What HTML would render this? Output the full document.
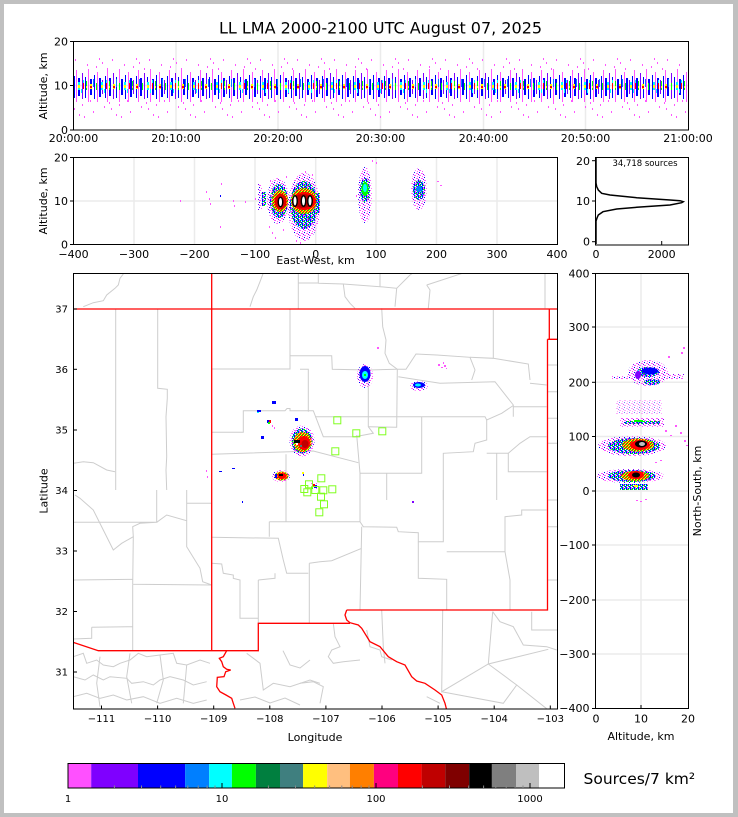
<!DOCTYPE html>
<html><head><meta charset="utf-8"><style>
html,body{margin:0;padding:0;background:#c0c0c0;}
svg{display:block;}
text{font-family:"DejaVu Sans","Liberation Sans",sans-serif;fill:#000;}
</style></head><body>
<svg width="738" height="817" viewBox="0 0 738 817" xmlns="http://www.w3.org/2000/svg">
<defs>
<pattern id="pa" patternUnits="userSpaceOnUse" x="73" y="56" width="31" height="64">
<rect x="1" y="20" width="1" height="22" fill="#00f"/><rect x="3" y="14" width="1" height="32" fill="#f5f"/>
<rect x="5" y="22" width="2" height="18" fill="#00f"/><rect x="9" y="17" width="1" height="26" fill="#7f00ff"/>
<rect x="12" y="21" width="1" height="21" fill="#00f"/><rect x="15" y="13" width="1" height="33" fill="#f5f"/>
<rect x="17" y="23" width="2" height="16" fill="#00f"/><rect x="21" y="19" width="1" height="24" fill="#00f"/>
<rect x="24" y="16" width="1" height="30" fill="#f5f"/><rect x="26" y="22" width="2" height="19" fill="#00f"/>
<rect x="29" y="24" width="1" height="14" fill="#7f00ff"/>
</pattern>
<pattern id="pb" patternUnits="userSpaceOnUse" x="73" y="56" width="23" height="64">
<rect x="5" y="26" width="2" height="8" fill="#0ff"/><rect x="5" y="29" width="2" height="3" fill="#ff0"/>
<rect x="0" y="27" width="1" height="7" fill="#0f0"/><rect x="10" y="27" width="1" height="6" fill="#f00"/>
<rect x="10" y="24" width="1" height="3" fill="#0ff"/><rect x="13" y="25" width="1" height="9" fill="#0f0"/>
<rect x="13" y="30" width="1" height="2" fill="#ff0"/><rect x="17" y="28" width="2" height="5" fill="#ff0"/>
<rect x="17" y="30" width="2" height="2" fill="#f00"/><rect x="20" y="23" width="1" height="8" fill="#007fff"/>
<rect x="8" y="33" width="1" height="4" fill="#0ff"/>
</pattern>
<pattern id="pc" patternUnits="userSpaceOnUse" x="73" y="56" width="37" height="64">
<g fill="#f5f">
<rect x="2" y="3" width="1" height="2"/><rect x="9" y="48" width="1" height="2"/><rect x="14" y="8" width="1" height="2"/>
<rect x="20" y="55" width="1" height="2"/><rect x="26" y="2" width="1" height="2"/><rect x="31" y="50" width="1" height="2"/>
<rect x="6" y="58" width="1" height="2"/><rect x="34" y="12" width="1" height="2"/><rect x="17" y="44" width="1" height="2"/>
<rect x="23" y="10" width="1" height="2"/><rect x="11" y="60" width="1" height="2"/><rect x="29" y="6" width="1" height="2"/>
<rect x="1" y="52" width="1" height="2"/><rect x="36" y="46" width="1" height="2"/>
</g>
</pattern>
<!-- speckle fills -->
<pattern id="sp1" patternUnits="userSpaceOnUse" x="0" y="0" width="5" height="5">
<rect x="0" y="0" width="1" height="1" fill="#f5f"/><rect x="2" y="1" width="1" height="1" fill="#f5f"/>
<rect x="4" y="2" width="1" height="1" fill="#00f"/><rect x="1" y="3" width="1" height="1" fill="#f5f"/>
<rect x="3" y="4" width="1" height="1" fill="#7f00ff"/><rect x="4" y="0" width="1" height="1" fill="#f5f"/>
<rect x="2" y="3" width="1" height="1" fill="#f5f"/>
</pattern>
<pattern id="sp2" patternUnits="userSpaceOnUse" x="0" y="0" width="4" height="4">
<rect x="0" y="0" width="1" height="1" fill="#00f"/><rect x="1" y="0" width="1" height="1" fill="#0ff"/>
<rect x="2" y="0" width="1" height="1" fill="#00f"/><rect x="3" y="0" width="1" height="1" fill="#f5f"/>
<rect x="0" y="1" width="1" height="1" fill="#0f0"/><rect x="2" y="1" width="1" height="1" fill="#00f"/>
<rect x="3" y="1" width="1" height="1" fill="#0f0"/><rect x="0" y="2" width="1" height="1" fill="#7f00ff"/>
<rect x="1" y="2" width="1" height="1" fill="#00f"/><rect x="2" y="2" width="1" height="1" fill="#0ff"/>
<rect x="1" y="3" width="1" height="1" fill="#0f0"/><rect x="2" y="3" width="1" height="1" fill="#00f"/>
<rect x="3" y="3" width="1" height="1" fill="#f5f"/>
</pattern>
<pattern id="sp3" patternUnits="userSpaceOnUse" x="0" y="0" width="3" height="3">
<rect x="0" y="0" width="1" height="1" fill="#ff0"/><rect x="1" y="0" width="1" height="1" fill="#f00"/>
<rect x="2" y="0" width="1" height="1" fill="#0f0"/><rect x="0" y="1" width="1" height="1" fill="#f00"/>
<rect x="1" y="1" width="1" height="1" fill="#ff7f00"/><rect x="2" y="1" width="1" height="1" fill="#ff0"/>
<rect x="0" y="2" width="1" height="1" fill="#0f0"/><rect x="1" y="2" width="1" height="1" fill="#ff0"/>
<rect x="2" y="2" width="1" height="1" fill="#f00"/>
</pattern>
<clipPath id="mapclip"><rect x="73.5" y="273.5" width="484" height="435.5"/></clipPath>
</defs>

<!-- frame -->
<rect x="0" y="0" width="738" height="817" fill="#c0c0c0"/>
<rect x="4" y="4" width="729" height="809" fill="#fff"/>

<!-- title -->
<text x="380.5" y="33.5" font-size="16" text-anchor="middle">LL LMA 2000-2100 UTC August 07, 2025</text>

<!-- ===== top panel ===== -->
<g stroke="#ebebeb" stroke-width="1.5">
<line x1="176" y1="42" x2="176" y2="130"/><line x1="278" y1="42" x2="278" y2="130"/>
<line x1="380.5" y1="42" x2="380.5" y2="130"/><line x1="483.5" y1="42" x2="483.5" y2="130"/>
<line x1="585.5" y1="42" x2="585.5" y2="130"/><line x1="74" y1="85.5" x2="688" y2="85.5"/>
</g>
<rect x="74" y="56" width="614" height="64" fill="url(#pa)"/>
<rect x="74" y="56" width="614" height="64" fill="url(#pb)"/>
<rect x="74" y="56" width="614" height="64" fill="url(#pc)"/>
<rect x="73.5" y="41.5" width="615" height="88.5" fill="none" stroke="#000" stroke-width="1"/>
<g stroke="#000" stroke-width="1">
<line x1="70" y1="41.5" x2="73.5" y2="41.5"/><line x1="70" y1="85.5" x2="73.5" y2="85.5"/><line x1="70" y1="130" x2="73.5" y2="130"/>
</g>
<g font-size="11" text-anchor="end">
<text x="68" y="45.5">20</text><text x="68" y="89.5">10</text><text x="68" y="134">0</text>
</g>
<g font-size="11" text-anchor="middle">
<text x="73.5" y="142">20:00:00</text><text x="176" y="142">20:10:00</text><text x="278" y="142">20:20:00</text>
<text x="380.5" y="142">20:30:00</text><text x="483.5" y="142">20:40:00</text><text x="585.5" y="142">20:50:00</text>
<text x="688" y="142">21:00:00</text>
</g>
<text transform="translate(47,86) rotate(-90)" font-size="11" text-anchor="middle">Altitude, km</text>

<!-- ===== middle panel (East-West) ===== -->
<g stroke="#ebebeb" stroke-width="1.5">
<line x1="134" y1="158" x2="134" y2="244"/><line x1="194.5" y1="158" x2="194.5" y2="244"/>
<line x1="255" y1="158" x2="255" y2="244"/><line x1="315.7" y1="158" x2="315.7" y2="244"/>
<line x1="376" y1="158" x2="376" y2="244"/><line x1="436.5" y1="158" x2="436.5" y2="244"/>
<line x1="497" y1="158" x2="497" y2="244"/><line x1="74" y1="201" x2="557" y2="201"/>
</g>
<g>
<g fill="#f5f">
<rect x="206" y="191" width="1" height="2"/><rect x="209" y="198" width="1" height="2"/><rect x="210" y="203" width="1" height="2"/>
<rect x="221" y="183" width="1" height="2"/><rect x="220" y="226" width="1" height="2"/><rect x="233" y="200" width="1" height="2"/>
<rect x="234" y="205" width="1" height="2"/><rect x="245" y="201" width="1" height="2"/><rect x="180" y="200" width="1" height="2"/>
<rect x="272" y="232" width="1" height="2"/><rect x="275" y="237" width="1" height="2"/><rect x="283" y="229" width="1" height="2"/>
<rect x="296" y="240" width="1" height="2"/><rect x="300" y="242" width="1" height="2"/><rect x="305" y="171" width="1" height="2"/>
<rect x="312" y="174" width="1" height="2"/><rect x="270" y="180" width="1" height="2"/><rect x="286" y="176" width="1" height="2"/>
<rect x="269" y="226" width="1" height="2"/><rect x="255" y="198" width="1" height="2"/>
</g>
<rect x="220" y="195" width="1" height="2" fill="#00f"/>
<!-- main cluster -->
<rect x="258" y="184" width="4" height="26" fill="url(#sp1)"/>
<rect x="262" y="192" width="4" height="14" fill="url(#sp2)"/>
<ellipse cx="278" cy="201" rx="11" ry="23" fill="url(#sp1)"/>
<ellipse cx="279" cy="201" rx="9" ry="17" fill="url(#sp2)"/>
<ellipse cx="280" cy="201" rx="8" ry="11" fill="url(#sp3)"/>
<ellipse cx="280.5" cy="201.5" rx="6" ry="8" fill="#e00000"/>
<ellipse cx="280.5" cy="202" rx="3" ry="5.5" fill="#000"/>
<ellipse cx="280.5" cy="202" rx="1.5" ry="4" fill="#fff"/>
<ellipse cx="304" cy="207" rx="16" ry="34" fill="url(#sp1)"/>
<ellipse cx="304" cy="205" rx="14" ry="24" fill="url(#sp2)"/>
<ellipse cx="304" cy="201" rx="13" ry="13" fill="url(#sp3)"/>
<ellipse cx="304" cy="201" rx="12" ry="9" fill="#f00"/>
<ellipse cx="303" cy="201" rx="10" ry="7" fill="#bf0000"/>
<ellipse cx="295" cy="201" rx="3" ry="6" fill="#000"/>
<ellipse cx="303.5" cy="201" rx="3" ry="6" fill="#000"/>
<ellipse cx="310" cy="201" rx="3" ry="6" fill="#000"/>
<ellipse cx="295" cy="201" rx="1.5" ry="4.5" fill="#fff"/>
<ellipse cx="303.5" cy="201" rx="1.5" ry="4.5" fill="#fff"/>
<ellipse cx="310" cy="201" rx="1.5" ry="4.5" fill="#fff"/>
<rect x="316" y="193" width="4" height="20" fill="url(#sp2)"/>
<!-- cluster at ~+80 km -->
<ellipse cx="365" cy="195" rx="7" ry="28" fill="url(#sp1)"/>
<ellipse cx="365" cy="190" rx="5" ry="12" fill="url(#sp2)"/>
<ellipse cx="365" cy="189" rx="3.5" ry="7" fill="#0f0"/>
<ellipse cx="365" cy="188" rx="2" ry="4" fill="#0ff"/>
<g fill="#f5f"><rect x="372" y="160" width="1" height="2"/><rect x="376" y="162" width="1" height="2"/><rect x="356" y="195" width="1" height="2"/></g>
<!-- cluster at ~+170 km -->
<ellipse cx="419" cy="189" rx="8" ry="21" fill="url(#sp1)"/>
<ellipse cx="419" cy="190" rx="6" ry="10" fill="url(#sp2)"/>
<ellipse cx="419" cy="189" rx="3" ry="3" fill="#007fff"/>
<g fill="#f5f"><rect x="437" y="181" width="2" height="1"/><rect x="440" y="185" width="2" height="1"/></g>
</g>
<rect x="73.5" y="157.5" width="484" height="87" fill="none" stroke="#000" stroke-width="1"/>
<g stroke="#000" stroke-width="1">
<line x1="70" y1="157.5" x2="73.5" y2="157.5"/><line x1="70" y1="201" x2="73.5" y2="201"/><line x1="70" y1="244.5" x2="73.5" y2="244.5"/>
</g>
<g font-size="11" text-anchor="end">
<text x="68" y="161.5">20</text><text x="68" y="205">10</text><text x="68" y="248.5">0</text>
</g>
<g font-size="11" text-anchor="middle">
<text x="73.5" y="258">−400</text><text x="134" y="258">−300</text><text x="194.5" y="258">−200</text>
<text x="255" y="258">−100</text><text x="315.7" y="258">0</text><text x="376" y="258">100</text>
<text x="436.5" y="258">200</text><text x="497" y="258">300</text><text x="557" y="258">400</text>
<text x="315.5" y="264">East-West, km</text>
</g>
<text transform="translate(47,201) rotate(-90)" font-size="11" text-anchor="middle">Altitude, km</text>

<!-- ===== histogram panel ===== -->
<rect x="595.5" y="157.5" width="93" height="87.5" fill="none" stroke="#000" stroke-width="1"/>
<path d="M596,244 L596,221 L597,218 L598.3,215 L603,211.7 L616.7,209 L636.7,207.3 L670,205 L681.7,202.7 L683.3,201.7 L680,200.7 L670,200 L636.7,197.7 L610,195 L601.7,193.3 L598.3,190 L596.7,186.7 L596,183 L596,158" fill="none" stroke="#000" stroke-width="1.5"/>
<g stroke="#000" stroke-width="1">
<line x1="592" y1="160.7" x2="595.5" y2="160.7"/><line x1="592" y1="201" x2="595.5" y2="201"/><line x1="592" y1="241.7" x2="595.5" y2="241.7"/>
<line x1="661.7" y1="241" x2="661.7" y2="245"/>
</g>
<g font-size="11" text-anchor="end">
<text x="590" y="165">20</text><text x="590" y="205">10</text><text x="590" y="245.5">0</text>
</g>
<g font-size="11" text-anchor="middle">
<text x="596" y="258">0</text><text x="661.7" y="258">2000</text>
</g>
<text x="645" y="166" font-size="8.5" text-anchor="middle">34,718 sources</text>

<!-- ===== map ===== -->
<g clip-path="url(#mapclip)">
<g fill="none" stroke="#cdcdcd" stroke-width="1">
<path d="M83.3,306.7 L93.3,302.7 L103.3,300.7 L106.7,295 L115,288.3 L118.3,285 L120,278.3 L123.3,274"/>
<path d="M250,306.7 L253.3,296.7 L256.7,290 L260,281.7 L263.3,273"/>
<path d="M298.3,273 V309 M298.3,283 H318.3 V273 M318.3,283.3 L343.3,284 L345,296.7 L350,303.3 L355,308.3"/>
<path d="M343.3,284 L380,286.7 L380,273 M380,286.7 L396.7,288.3 L395,306.7 M396.7,288.3 L410,275 L413,273"/>
<path d="M426.7,285 L430,290 L428.3,308.3 M426.7,285 L463.3,273 M545,273 V308.3"/>
<path d="M115.7,309 V490 M157.7,309 V388.3 L167.3,389.3 L167.3,398.3 L166,416.7 L166.7,456.7 L166,470 L166.7,490"/>
<path d="M73.3,463.3 L83.3,461.7 L93.3,462.7 L106.7,470 L115,471.7"/>
<path d="M211.7,369 H290 V309 M290,355.7 H331.7 L332.3,369.3 L368.3,370 L396.7,369.3"/>
<path d="M211.7,432.3 H243.3 V410.7 H285 L287,408.5 L290,408.5 L290,410.7 H313.3 L323.3,436.7 H355 L373.3,433.3 L368.3,426.7 V370"/>
<path d="M300,369.3 H308.3 V411.7"/>
<path d="M211.7,454.3 L313.3,451 L358.3,462.7"/>
<path d="M286,454.3 V522"/>
<path d="M368.3,426.7 L396.7,427.3 L397.3,369.3"/>
<path d="M381.7,308.3 L382.7,326.7 L386,340 L385,353.3 L389.3,363.3 L397.3,369.3 L406,369.3 L416,354 L436.7,355 L470,357.3 L475,370 L471.7,380"/>
<path d="M470,357.3 L493.3,358.3 L493.3,310 M493.3,358.3 L528.3,364 L530,380 M398.3,376.7 L440,383.3 L495,381.7 L513.3,405 L513.3,416.7"/>
<path d="M315,416.7 H421.7 V473.3 H360 L356.7,435 M421.7,416.7 H485 L486.7,420 L501.7,413.3 L513.3,405.5"/>
<path d="M443.3,500 V453.3 L473.3,451.7 L475,443.3 L486.7,440 V420"/>
<path d="M486.7,453.3 H508.3 V471.7 H546.7 M496.7,453.3 V500 M508.3,453.3 L520,443.3 L530,436.7 H546.7 M513.3,406.7 H546.7 M530,383.3 L546.7,385"/>
<path d="M386.7,473.3 V500 M360,473.3 V521.7"/>
<path d="M548,365 H557 M548,391.7 H557 M548,418.3 H557 M548,443.3 H557 M548,500 H557 M548,526.7 H557 M548,580 H557 M531.7,611.7 V630 H558"/>
<path d="M73.3,522.3 H156.7 V490 M75,495 L80,498.3 L93.3,510 L103.3,530 L113.3,550 L121.7,543.3 L133.3,536.7 L132.7,526.7 L140,523.3 L156.7,522.3"/>
<path d="M156.7,522.3 L166.7,515 L186.7,520.7 V490 M186.7,503.3 H211.7 M186.7,520.7 V546.7 L200,568.3 L202.7,581.7 L211.7,585"/>
<path d="M133.3,536.7 L132.7,584.3 L211.7,585 M73.3,580 L132.7,579.3 M132.7,584.3 V650 M91.7,627.3 L132.7,626.7 M91.7,627.3 V638.3 L73.3,639"/>
<path d="M211.7,537.3 L278.3,538.3 L283.3,560 L286.7,573.3 L308.3,573.3 M269.3,521.7 V536.7 M269.3,521.7 H360 L363.3,526.7 L396.7,527.3 L398.3,531.7 L418.3,532.7 L418.3,541.7 L443.3,541.7 L443.3,490"/>
<path d="M211.7,563.3 L221.7,564 L223.3,573.3 L233.3,575 L233.3,578.3 L240,580 L240,618.3 L258.3,618.3 L258.3,623.3 M258.3,580 L275,578.3 L275,573.3 M258.3,580 V618.3"/>
<path d="M309.3,563.3 V623.3 M309.3,563.3 L320,561.7 L331.7,560.7 L361.7,548.3 M361.7,526.7 L360,610 M418.3,541.7 V578.3 L446.7,579.3 L446.7,610"/>
<path d="M446.7,551.7 H505 V516.7 L521.7,515 L521.7,510 H546.7 M505,551.7 L510,580 L510,610"/>
<path d="M381.7,610 L383.3,646.7 L385,663.3 M442.7,610 L441.7,691.7 L488.3,664 L548.3,649.3 M488.3,664 L492.7,611.7 M488.3,664 L516.7,685 L548.3,710 M441.7,691.7 L503.3,703.3 L516.7,685"/>
<path d="M492.7,611.7 L500,621.7 L513.3,626.7 L523.3,645 L546.7,646.7 L556.7,650"/>
<path d="M73.3,656.7 L83.3,653.3 L86.7,663.3 L96.7,660 L103.3,665 L113.3,666.7 L120,663.3 L130,660 L138.3,653.3 L146.7,656.7 L160,655 L173.3,653.3 L176.7,663.3 L186.7,665 L200,660 L210,663.3"/>
<path d="M73.3,676.7 L85,680 L93.3,675 L103.3,680 L110,676.7 L126.7,678.3 L131.7,683.3 L143.3,681.7 L153.3,685 L160,680 L170,676.7 L183.3,680 L193.3,685 L206.7,681.7"/>
<path d="M73.3,696.7 L86.7,693.3 L100,698.3 L113.3,695 L126.7,700 L143.3,696.7 L160,703.3 L176.7,698.3 L193.3,703.3 L206.7,700"/>
<path d="M130,653.3 L126.7,676.7 L131.7,703.3 M160,655 L163.3,680 L156.7,703.3 M100,656.7 L96.7,683.3 L100,706.7 M186.7,665 L183.3,703.3"/>
<path d="M246.7,653.3 L260,663.3 L263.3,690 L273.3,683.3 L290,686.7 L310,680 L320,683.3 M333.3,623.3 L335,636.7 L340,646.7 L331.7,650 L328.3,656.7 L333.3,663.3 L343.3,661.7 L360,660"/>
<path d="M366.7,630 L370,646.7 L380,650 L381.7,656.7 L391.7,660 M300,683.3 L313.3,681.7 L323.3,686.7 L320,703.3 M426.7,696.7 L440,703.3 M283,650.7 L290,665 L300,668 L310,660 M240,700 L255,697 L270,703 L285,698 L300,705"/>
</g>
<g fill="none" stroke="#f00" stroke-width="1.3">
<path d="M73,309 H557"/>
<path d="M211.7,273 V650.7"/>
<path d="M73,642.3 L98.3,650.7 H258.3 V623.3 H350"/>
<path d="M549.3,309 V339.3 M547.5,339.3 H558 M547.5,339.3 V610 H346.7"/>
<path d="M346.7,610 L345,615 L346.7,620 L350,622.7 L358.3,625 L361.7,628.3 L370,641.7 L380,646.7 L388.3,656.7 L396.7,661.7 L405,665 L411.7,676.7 L416.7,681 L425,683.3 L435,690 L441.7,695 L445,703.3 L446.7,710"/>
<path d="M226.7,650.7 L223.3,656.7 L219.3,658.3 L221.7,661.7 L223.3,666.7 L226.7,669.3 L230.7,670 L225.7,671.7 L224,676.7 L217.3,677.3 L216.7,686.7 L220,691.7 L226,695 L231.7,698.3 L233.3,703.3 L235,708.3"/>
</g>
<!-- lightning on map -->
<g>
<g fill="#f5f"><rect x="377" y="347" width="2" height="2"/>
<rect x="438" y="364" width="2" height="2"/><rect x="441" y="367" width="2" height="1"/><rect x="444" y="365" width="2" height="2"/>
<rect x="446" y="368" width="1" height="1"/><rect x="443" y="362" width="1" height="2"/></g>
<ellipse cx="365" cy="376" rx="8" ry="12" fill="url(#sp1)"/>
<ellipse cx="365" cy="374" rx="5.5" ry="8" fill="#00f"/>
<ellipse cx="365" cy="375" rx="3" ry="4" fill="#0ff"/>
<rect x="364" y="374" width="2" height="2" fill="#0f0"/>
<ellipse cx="419" cy="386" rx="9" ry="5" fill="url(#sp1)"/>
<ellipse cx="419" cy="385" rx="6" ry="3" fill="#00f"/>
<ellipse cx="418" cy="385" rx="3" ry="1.5" fill="#0ff"/>
<!-- main map cluster -->
<ellipse cx="302" cy="441" rx="12.5" ry="15.5" fill="url(#sp1)"/>
<ellipse cx="302" cy="441" rx="10.5" ry="12.5" fill="url(#sp2)"/>
<ellipse cx="302.5" cy="442" rx="9" ry="10" fill="url(#sp3)"/>
<ellipse cx="304" cy="443" rx="6" ry="7" fill="#f00"/>
<ellipse cx="305" cy="444" rx="3.5" ry="4" fill="#bf0000"/>
<rect x="294" y="440" width="6" height="3" fill="#000"/>
<rect x="296" y="443" width="2" height="2" fill="#fff"/>
<rect x="300" y="445" width="2" height="2" fill="#3f7f7f"/>
<!-- second map cluster -->
<ellipse cx="281" cy="476" rx="9" ry="6" fill="url(#sp1)"/>
<ellipse cx="281.5" cy="476" rx="7" ry="4.5" fill="url(#sp3)"/>
<ellipse cx="282" cy="476" rx="4.5" ry="3" fill="#f00"/>
<rect x="279" y="474" width="4" height="2" fill="#000"/>
<rect x="275" y="474" width="2" height="4" fill="#00f"/>
<!-- small specks -->
<rect x="272" y="401" width="4" height="3" fill="#00f"/>
<rect x="257" y="410" width="4" height="2" fill="#00f"/><rect x="257" y="412" width="2" height="1" fill="#0ff"/>
<rect x="267" y="420" width="2" height="3" fill="#00f"/><rect x="269" y="420" width="2" height="3" fill="#f00"/><rect x="268" y="422" width="2" height="2" fill="#0f0"/>
<rect x="272" y="425" width="1" height="2" fill="#f5f"/><rect x="274" y="427" width="1" height="2" fill="#f5f"/>
<rect x="295" y="418" width="3" height="3" fill="#00f"/>
<rect x="261" y="436" width="3" height="3" fill="#00f"/>
<rect x="206" y="470" width="1" height="2" fill="#f5f"/><rect x="207" y="476" width="1" height="2" fill="#f5f"/>
<rect x="219" y="471" width="3" height="1" fill="#00f"/><rect x="232" y="468" width="3" height="1" fill="#00f"/>
<rect x="302" y="472" width="2" height="2" fill="#ff0"/><rect x="303" y="474" width="1" height="2" fill="#00f"/>
<rect x="311" y="483" width="6" height="6" fill="url(#sp1)"/><rect x="312" y="484" width="3" height="3" fill="#f00"/><rect x="315" y="485" width="2" height="3" fill="#00f"/><rect x="311" y="487" width="2" height="2" fill="#0f0"/>
<rect x="242" y="501" width="1" height="2" fill="#00f"/>
<rect x="412" y="501" width="2" height="2" fill="#7f00ff"/>
</g>
<!-- stations -->
<g fill="none" stroke="#80ff20" stroke-width="1">
<rect x="333.8" y="416.8" width="7" height="7"/><rect x="352.8" y="429.8" width="7" height="7"/><rect x="378.8" y="427.8" width="7" height="7"/>
<rect x="331.8" y="447.8" width="7" height="7"/><rect x="317.8" y="474.8" width="7" height="7"/><rect x="300.8" y="485.5" width="7" height="7"/>
<rect x="305.5" y="480.8" width="7" height="7"/><rect x="311.8" y="486.5" width="7" height="7"/><rect x="319.8" y="486.8" width="7" height="7"/>
<rect x="328.8" y="485.8" width="7" height="7"/><rect x="303.8" y="488.8" width="7" height="7"/><rect x="317.5" y="493.2" width="7" height="7"/>
<rect x="320.5" y="500.8" width="7" height="7"/><rect x="315.8" y="508.8" width="7" height="7"/>
</g>
</g>
<rect x="73.5" y="273.5" width="484" height="435.5" fill="none" stroke="#000" stroke-width="1"/>
<g stroke="#000" stroke-width="1">
<line x1="73.5" y1="309" x2="77" y2="309"/><line x1="73.5" y1="369.3" x2="77" y2="369.3"/><line x1="73.5" y1="430" x2="77" y2="430"/>
<line x1="73.5" y1="490.5" x2="77" y2="490.5"/><line x1="73.5" y1="551" x2="77" y2="551"/><line x1="73.5" y1="611.5" x2="77" y2="611.5"/>
<line x1="73.5" y1="672" x2="77" y2="672"/>
<line x1="101.5" y1="709" x2="101.5" y2="705.5"/><line x1="157.6" y1="709" x2="157.6" y2="705.5"/><line x1="213.7" y1="709" x2="213.7" y2="705.5"/>
<line x1="269.8" y1="709" x2="269.8" y2="705.5"/><line x1="325.9" y1="709" x2="325.9" y2="705.5"/><line x1="382" y1="709" x2="382" y2="705.5"/>
<line x1="438.1" y1="709" x2="438.1" y2="705.5"/><line x1="494.2" y1="709" x2="494.2" y2="705.5"/><line x1="550.3" y1="709" x2="550.3" y2="705.5"/>
</g>
<g font-size="10" text-anchor="end">
<text x="68" y="312.5">37</text><text x="68" y="373">36</text><text x="68" y="433.5">35</text><text x="68" y="494">34</text>
<text x="68" y="554.5">33</text><text x="68" y="615">32</text><text x="68" y="675.5">31</text>
</g>
<g font-size="10" text-anchor="middle">
<text x="101.5" y="722">−111</text><text x="157.6" y="722">−110</text><text x="213.7" y="722">−109</text><text x="269.8" y="722">−108</text>
<text x="325.9" y="722">−107</text><text x="382" y="722">−106</text><text x="438.1" y="722">−105</text><text x="494.2" y="722">−104</text>
<text x="550.3" y="722">−103</text>
</g>
<text x="315" y="741" font-size="11" text-anchor="middle">Longitude</text>
<text transform="translate(47.5,491) rotate(-90)" font-size="11" text-anchor="middle">Latitude</text>

<!-- ===== right panel (N-S vs altitude) ===== -->
<g stroke="#ebebeb" stroke-width="1.5">
<line x1="641" y1="274" x2="641" y2="708"/>
<line x1="596" y1="327" x2="688" y2="327"/><line x1="596" y1="382.3" x2="688" y2="382.3"/><line x1="596" y1="436.5" x2="688" y2="436.5"/>
<line x1="596" y1="491" x2="688" y2="491"/><line x1="596" y1="545" x2="688" y2="545"/><line x1="596" y1="600" x2="688" y2="600"/>
<line x1="596" y1="654" x2="688" y2="654"/>
</g>
<g>
<!-- 200-225 km -->
<ellipse cx="648" cy="373" rx="20" ry="13" fill="url(#sp1)"/>
<rect x="612" y="376" width="20" height="3" fill="url(#sp1)"/>
<rect x="662" y="374" width="22" height="5" fill="url(#sp1)"/>
<g fill="#f5f"><rect x="683" y="347" width="2" height="2"/><rect x="681" y="352" width="2" height="2"/><rect x="668" y="356" width="2" height="2"/></g>
<ellipse cx="648" cy="372" rx="11" ry="5" fill="url(#sp2)"/>
<ellipse cx="650" cy="371" rx="8" ry="3.5" fill="#00f"/>
<ellipse cx="652" cy="382" rx="8" ry="3" fill="url(#sp2)"/>
<ellipse cx="638" cy="375" rx="3" ry="4" fill="#7f00ff"/>
<!-- 140-160 dots, 120-130 band -->
<rect x="616" y="400" width="46" height="14" fill="url(#sp1)" opacity="0.5"/>
<rect x="620" y="418" width="44" height="9" fill="url(#sp1)"/>
<rect x="625" y="421" width="35" height="3" fill="url(#sp2)"/>
<rect x="634" y="420" width="9" height="2" fill="#0f0"/>
<g fill="#f5f">
<rect x="665" y="430" width="2" height="2"/><rect x="670" y="435" width="2" height="1"/><rect x="680" y="432" width="2" height="2"/>
<rect x="684" y="440" width="2" height="2"/><rect x="686" y="445" width="2" height="1"/><rect x="660" y="460" width="2" height="1"/>
<rect x="655" y="462" width="2" height="1"/><rect x="675" y="425" width="2" height="2"/>
</g>
<!-- 70-100 km -->
<ellipse cx="632" cy="446" rx="34" ry="10" fill="url(#sp1)"/>
<ellipse cx="634" cy="446" rx="26" ry="8" fill="url(#sp2)"/>
<ellipse cx="638" cy="445" rx="16" ry="6.5" fill="url(#sp3)"/>
<ellipse cx="640" cy="445" rx="10" ry="5" fill="#f00"/>
<ellipse cx="641" cy="444" rx="6" ry="3.5" fill="#000"/>
<ellipse cx="642" cy="444" rx="3" ry="2" fill="#bfbfbf"/>
<!-- 15-35 km -->
<ellipse cx="630" cy="476" rx="34" ry="7" fill="url(#sp1)"/>
<ellipse cx="632" cy="476" rx="24" ry="6" fill="url(#sp2)"/>
<ellipse cx="635" cy="476" rx="14" ry="5" fill="url(#sp3)"/>
<ellipse cx="636" cy="475" rx="8" ry="4" fill="#f00"/>
<ellipse cx="636" cy="475" rx="4" ry="2.5" fill="#000"/>
<rect x="620" y="484" width="28" height="6" fill="url(#sp2)"/>
<rect x="634" y="485" width="4" height="2" fill="#ff0"/>
<g fill="#f5f"><rect x="636" y="500" width="2" height="1"/><rect x="640" y="501" width="2" height="1"/><rect x="645" y="499" width="2" height="1"/></g>
</g>
<rect x="595.5" y="273.5" width="93" height="435" fill="none" stroke="#000" stroke-width="1"/>
<g stroke="#000" stroke-width="1">
<line x1="592" y1="273.5" x2="595.5" y2="273.5"/><line x1="592" y1="327" x2="595.5" y2="327"/><line x1="592" y1="382.3" x2="595.5" y2="382.3"/>
<line x1="592" y1="436.5" x2="595.5" y2="436.5"/><line x1="592" y1="491" x2="595.5" y2="491"/><line x1="592" y1="545" x2="595.5" y2="545"/>
<line x1="592" y1="600" x2="595.5" y2="600"/><line x1="592" y1="654" x2="595.5" y2="654"/><line x1="592" y1="708.5" x2="595.5" y2="708.5"/>
<line x1="641" y1="708.5" x2="641" y2="705"/>
</g>
<g font-size="11" text-anchor="end">
<text x="589.5" y="277.5">400</text><text x="589.5" y="331">300</text><text x="589.5" y="386.3">200</text>
<text x="589.5" y="440.5">100</text><text x="589.5" y="495">0</text><text x="589.5" y="549">−100</text>
<text x="589.5" y="604">−200</text><text x="589.5" y="658">−300</text><text x="589.5" y="712">−400</text>
</g>
<g font-size="11" text-anchor="middle">
<text x="596" y="722.5">0</text><text x="641" y="722.5">10</text><text x="688" y="722.5">20</text>
<text x="641" y="740">Altitude, km</text>
</g>
<text transform="translate(701,491) rotate(-90)" font-size="11" text-anchor="middle">North-South, km</text>

<!-- ===== colorbar ===== -->
<g>
<rect x="68" y="763" width="23.2" height="25" fill="#ff50ff"/>
<rect x="91.2" y="763" width="46.8" height="25" fill="#7f00ff"/>
<rect x="138" y="763" width="47.1" height="25" fill="#0000ff"/>
<rect x="185.1" y="763" width="24.1" height="25" fill="#007fff"/>
<rect x="209.2" y="763" width="22.7" height="25" fill="#00ffff"/>
<rect x="231.9" y="763" width="24" height="25" fill="#00ff00"/>
<rect x="255.9" y="763" width="24.1" height="25" fill="#007f3f"/>
<rect x="280" y="763" width="23.1" height="25" fill="#3f7f7f"/>
<rect x="303.1" y="763" width="24.1" height="25" fill="#ffff00"/>
<rect x="327.2" y="763" width="22.7" height="25" fill="#ffbf7f"/>
<rect x="349.9" y="763" width="24" height="25" fill="#ff7f00"/>
<rect x="373.9" y="763" width="24.1" height="25" fill="#ff007f"/>
<rect x="398" y="763" width="23.6" height="25" fill="#ff0000"/>
<rect x="421.6" y="763" width="23.6" height="25" fill="#bf0000"/>
<rect x="445.2" y="763" width="24" height="25" fill="#7f0000"/>
<rect x="469.2" y="763" width="22.7" height="25" fill="#000000"/>
<rect x="491.9" y="763" width="24.1" height="25" fill="#7f7f7f"/>
<rect x="516" y="763" width="23.1" height="25" fill="#bfbfbf"/>
<rect x="539.1" y="763" width="25.4" height="25" fill="#ffffff"/>
</g>
<rect x="68" y="763.5" width="496.5" height="24.5" fill="none" stroke="#000" stroke-width="1"/>
<g stroke="#000" stroke-width="1">
<line x1="68" y1="788" x2="68" y2="783"/><line x1="222" y1="788" x2="222" y2="783"/><line x1="376" y1="788" x2="376" y2="783"/><line x1="530" y1="788" x2="530" y2="783"/>
<path d="M114.4,788v-2.5M141.5,788v-2.5M160.7,788v-2.5M175.6,788v-2.5M187.8,788v-2.5M198.2,788v-2.5M207.1,788v-2.5M215,788v-2.5
M268.4,788v-2.5M295.5,788v-2.5M314.7,788v-2.5M329.6,788v-2.5M341.8,788v-2.5M352.2,788v-2.5M361.1,788v-2.5M369,788v-2.5
M422.4,788v-2.5M449.5,788v-2.5M468.7,788v-2.5M483.6,788v-2.5M495.8,788v-2.5M506.2,788v-2.5M515.1,788v-2.5M523,788v-2.5" stroke="#888"/>
</g>
<g font-size="10" text-anchor="middle">
<text x="68" y="802">1</text><text x="222" y="802">10</text><text x="376" y="802">100</text><text x="530" y="802">1000</text>
</g>
<text x="583.5" y="784" font-size="15.5">Sources/7 km²</text>
</svg>
</body></html>
